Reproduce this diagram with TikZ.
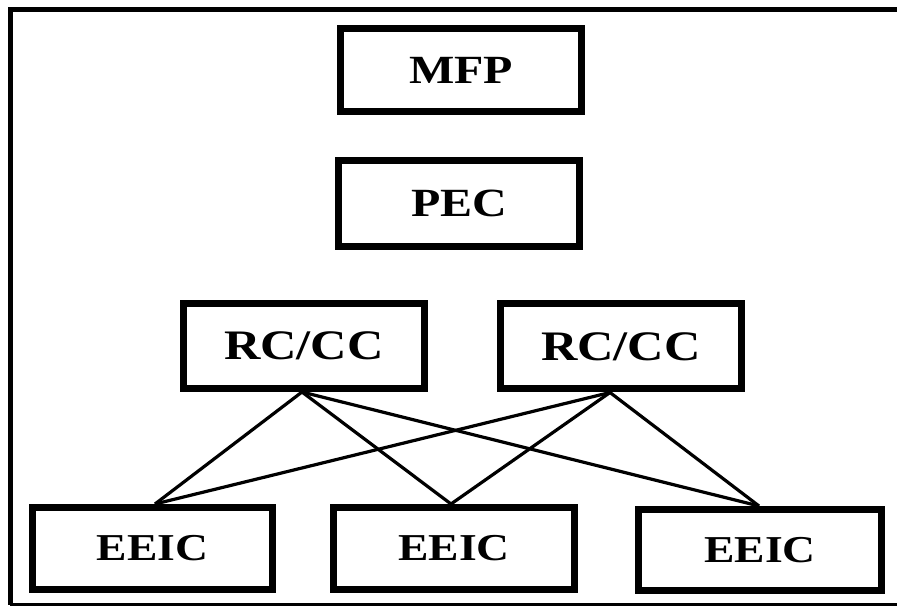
\documentclass[tikz,border=0pt]{standalone}
\usepackage{fontspec}
\setmainfont{Liberation Serif}[FakeStretch=1.2]
\begin{document}
\begin{tikzpicture}[x=1pt,y=-1pt,
  box/.style={draw, line width=7pt, rectangle, inner sep=0pt,
    minimum width=241pt, minimum height=84pt,
    font=\fontsize{40}{40}\selectfont\bfseries},
  rcbox/.style={box, font=\fontsize{42}{42}\selectfont\bfseries},
  lowbox/.style={box, font=\fontsize{38}{38}\selectfont\bfseries},
  link/.style={line width=3.2pt}]
\useasboundingbox (0,0) rectangle (897,609);
% frame (open at right)
\coordinate (ftr) at (897,10);
\coordinate (ftl) at (10,10);
\coordinate (fbl) at (10,604.5);
\coordinate (fbr) at (897,604.5);
\draw[line width=5pt] (ftr) -- (ftl) -- (fbl);
\draw[line width=3pt] (fbl) -- (fbr);
% boxes
\node[box, minimum height=83pt] (mfp) at (461,70) {MFP};
\node[box, minimum height=86pt] (pec) at (459,203.5) {PEC};
\node[rcbox, minimum height=85pt] (rc1) at (304,346) {RC/CC};
\node[rcbox, minimum height=85pt] (rc2) at (621,346.5) {RC/CC};
\node[lowbox, minimum width=240pt, minimum height=82pt] (e1) at (152.5,548.5) {EEIC};
\node[lowbox, minimum height=82pt] (e2) at (454,548.5) {EEIC};
\node[lowbox, minimum width=243pt, minimum height=81pt] (e3) at (760,550) {EEIC};
% connectors
\coordinate (r1s) at ([xshift=-2pt]rc1.south);
\coordinate (r2s) at ([xshift=-11pt]rc2.south);
\coordinate (e1n) at ([xshift=2.5pt]e1.north);
\coordinate (e2n) at ([xshift=-3pt]e2.north);
\coordinate (e3n) at ([xshift=-1pt]e3.north);
\draw[link] (r1s) -- (e1n);
\draw[link] (r1s) -- (e2n);
\draw[link] (r1s) -- (e3n);
\draw[link] (r2s) -- (e1n);
\draw[link] (r2s) -- (e2n);
\draw[link] (r2s) -- (e3n);
\end{tikzpicture}
\end{document}
